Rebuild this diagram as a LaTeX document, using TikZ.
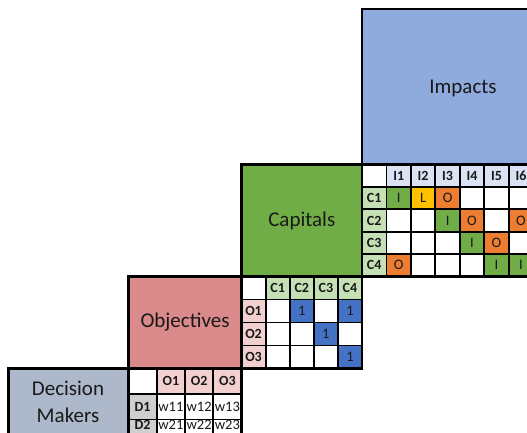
\documentclass[tikz,border=0pt]{standalone}
\usepackage{fontspec}
\setmainfont{Carlito}
\definecolor{impbox}{RGB}{143,170,220}
\definecolor{imphead}{RGB}{218,227,243}
\definecolor{capbox}{RGB}{112,173,71}
\definecolor{caphead}{RGB}{197,224,180}
\definecolor{objbox}{RGB}{218,138,138}
\definecolor{objhead}{RGB}{242,208,208}
\definecolor{dmbox}{RGB}{173,185,202}
\definecolor{dmhead}{RGB}{208,206,206}
\definecolor{cI}{RGB}{112,173,71}
\definecolor{cL}{RGB}{255,192,0}
\definecolor{cO}{RGB}{237,125,49}
\definecolor{cone}{RGB}{68,114,196}
\definecolor{txt}{RGB}{25,25,25}
\tikzset{
  boxline/.style={draw=black, line width=2.6pt},
  cell/.style={draw=black, line width=1.8pt, inner sep=0pt, outer sep=0pt,
    anchor=north west, text=txt, font=\fontsize{14.5}{14.5}\selectfont},
  hcell/.style={cell, font=\bfseries\fontsize{14}{14}\selectfont},
  celltext/.style={inner sep=0pt, text=txt, font=\fontsize{14.5}{14.5}\selectfont},
  hcelltext/.style={celltext, font=\bfseries\fontsize{14}{14}\selectfont},
  impcell/.style={minimum width=24.45pt, minimum height=22.4pt},
  capcell/.style={minimum width=24.1pt, minimum height=23pt},
  deccell/.style={minimum width=28.25pt, minimum height=25.5pt},
  title/.style={text=txt, align=center, font=\fontsize{21}{27}\selectfont},
}
\begin{document}
\begin{tikzpicture}[x=1pt,y=-1pt]
\useasboundingbox (0,0) rectangle (527,433);
\clip (0,0) rectangle (527,433);
% title boxes
\fill[impbox] (362,9) rectangle (600,164.5);
\fill[capbox] (241.5,164.5) rectangle (362,276.5);
\fill[objbox] (128.5,276.5) rectangle (241.5,368.5);
\fill[dmbox] (8.5,368.5) rectangle (128.5,460);
\draw[boxline] (362,164.5) -- (362,9) -- (600,9);
\draw[boxline] (241.5,276.5) -- (241.5,164.5) -- (362,164.5);
\draw[boxline] (128.5,368.5) -- (128.5,276.5) -- (241.5,276.5);
\draw[boxline] (8.5,460) -- (8.5,368.5) -- (128.5,368.5) -- (128.5,460);
\node[title] (impt) at (463,88) {Impacts};
\node[title] (capt) at (301.75,221) {Capitals};
\node[title] (objt) at (185,322.5) {Objectives};
\node[title] (dmt) at (68,402) {Decision\\Makers};
% Impacts matrix
\foreach \c in {0,...,6} \foreach \r in {1,...,4}
  \node[cell, impcell, fill=white] (imp-\c-\r) at ({362+\c*24.45},{164.5+\r*22.4}) {};
\node[cell, impcell, fill=white] (imp-0-0) at (362,164.5) {};
\foreach \c/\t in {1/I1,2/I2,3/I3,4/I4,5/I5,6/I6}
  \node[hcell, impcell, fill=imphead] (imph-\c) at ({362+\c*24.45},164.5) {\t};
\foreach \r/\t in {1/C1,2/C2,3/C3,4/C4}
  \node[hcell, impcell, fill=caphead] (impr-\r) at (362,{164.5+\r*22.4}) {\t};
\foreach \c/\r/\col/\t in {1/1/cI/I,2/1/cL/L,3/1/cO/O,3/2/cI/I,4/2/cO/O,6/2/cO/O,
    4/3/cI/I,5/3/cO/O,1/4/cO/O,5/4/cI/I,6/4/cI/I}
  \node[cell, impcell, fill=\col] (impv-\c-\r) at ({362+\c*24.45},{164.5+\r*22.4}) {\t};
\draw[boxline] (362,164.5) rectangle (533.15,276.5);
% Capitals-Objectives matrix
\foreach \c in {0,...,4} \foreach \r in {0,...,3}
  \node[cell, capcell, fill=white] (cap-\c-\r) at ({241.5+\c*24.1},{276.5+\r*23}) {};
\foreach \c/\t in {1/C1,2/C2,3/C3,4/C4}
  \node[hcell, capcell, fill=caphead] (caph-\c) at ({241.5+\c*24.1},276.5) {\t};
\foreach \r/\t in {1/O1,2/O2,3/O3}
  \node[hcell, capcell, fill=objhead] (capr-\r) at (241.5,{276.5+\r*23}) {\t};
\foreach \c/\r in {2/1,4/1,3/2,4/3}
  \node[cell, capcell, fill=cone] (capv-\c-\r) at ({241.5+\c*24.1},{276.5+\r*23}) {1};
\draw[boxline] (241.5,276.5) rectangle (362,368.5);
% Decision matrix
\node[cell, deccell, fill=white] (dec-0-0) at (128.5,368.5) {};
\foreach \c/\t in {1/O1,2/O2,3/O3}
  \node[hcell, deccell, fill=objhead] (dech-\c) at ({128.5+\c*28.25},368.5) {\t};
\node[hcell, deccell, fill=dmhead] (decr-1) at (128.5,394) {D1};
\node[hcell, deccell, fill=dmhead] (decr-2) at (128.5,419.5) {};
\node[hcelltext] (decr-2-t) at (142.6,424.5) {D2};
\foreach \c in {1,2,3}
  \node[cell, deccell, fill=white] (decv-\c-1) at ({128.5+\c*28.25},394) {w1\c};
\foreach \c in {1,2,3} {
  \node[cell, deccell, fill=white] (decv-\c-2) at ({128.5+\c*28.25},419.5) {};
  \node[celltext] (decv-\c-2-t) at ({142.6+\c*28.25},424.5) {w2\c};
}
\draw[boxline] (128.5,368.5) rectangle (241.5,450);
\end{tikzpicture}
\end{document}
